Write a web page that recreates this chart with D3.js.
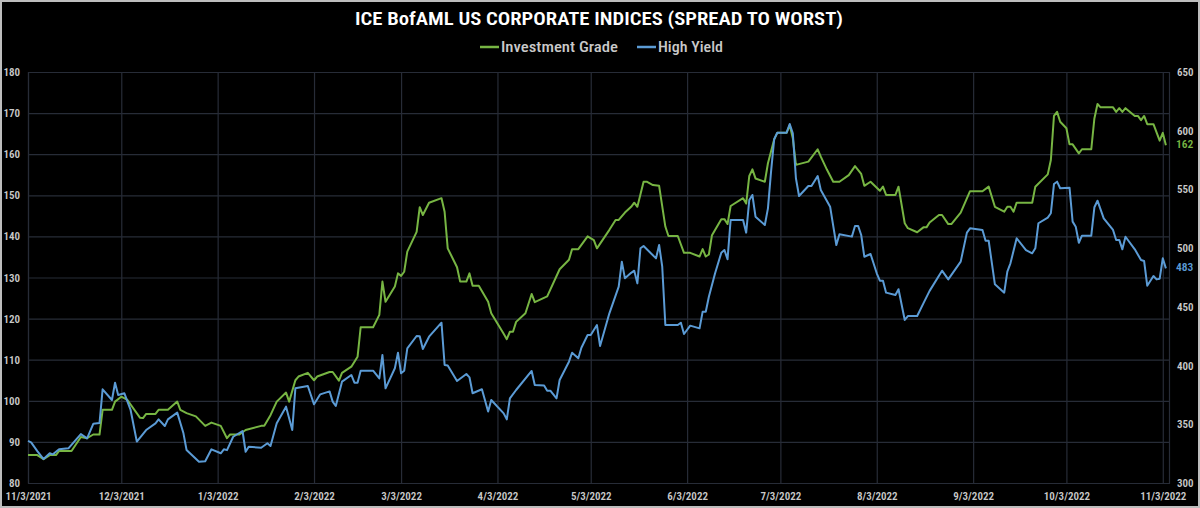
<!DOCTYPE html>
<html>
<head>
<meta charset="utf-8">
<script src="https://cdn.jsdelivr.net/npm/d3@7"></script>
<style>
  html, body { margin: 0; padding: 0; background: #000; }
  svg { display: block; }
</style>
</head>
<body>
<div id="chart"></div>
<script>
// data
const chartTitle = "ICE BofAML US CORPORATE INDICES (SPREAD TO WORST)";
const seriesNames = ["Investment Grade", "High Yield"];
const seriesColors = ["#77b543", "#5b9bd5"];

const investmentGrade = [
  ["11/3/2021", 86.8], ["11/6/2021", 86.8], ["11/8/2021", 85.8], ["11/10/2021", 86.8], ["11/12/2021", 86.8],
  ["11/13/2021", 87.8], ["11/17/2021", 87.8], ["11/20/2021", 91.2], ["11/22/2021", 90.9], ["11/24/2021", 91.8],
  ["11/26/2021", 91.8], ["11/27/2021", 97.8], ["11/30/2021", 97.8], ["12/1/2021", 99.8], ["12/3/2021", 101],
  ["12/5/2021", 100.2], ["12/6/2021", 99.1], ["12/9/2021", 95.9], ["12/10/2021", 95.8], ["12/11/2021", 96.8],
  ["12/14/2021", 96.8], ["12/15/2021", 97.8], ["12/18/2021", 97.8], ["12/21/2021", 99.8], ["12/22/2021", 97.8],
  ["12/24/2021", 97], ["12/27/2021", 96.2], ["12/30/2021", 93.9], ["1/1/2022", 94.7], ["1/4/2022", 93.9],
  ["1/6/2022", 90.9], ["1/7/2022", 91.8], ["1/10/2022", 91.8], ["1/12/2022", 92.9], ["1/17/2022", 93.9],
  ["1/18/2022", 93.9], ["1/20/2022", 96.5], ["1/22/2022", 99.8], ["1/25/2022", 102], ["1/26/2022", 99.8],
  ["1/28/2022", 105], ["1/29/2022", 105.9], ["2/1/2022", 106.8], ["2/3/2022", 105], ["2/4/2022", 105.9],
  ["2/8/2022", 107], ["2/9/2022", 107], ["2/11/2022", 104.9], ["2/12/2022", 106.8], ["2/15/2022", 108.3],
  ["2/17/2022", 110.7], ["2/18/2022", 117.9], ["2/22/2022", 117.9], ["2/24/2022", 120.9], ["2/25/2022", 129],
  ["2/26/2022", 124.1], ["3/1/2022", 127.8], ["3/2/2022", 131], ["3/3/2022", 130.4], ["3/4/2022", 131.4],
  ["3/5/2022", 136.3], ["3/8/2022", 141.1], ["3/9/2022", 147.1], ["3/10/2022", 145.2], ["3/12/2022", 148.2],
  ["3/16/2022", 149.3], ["3/17/2022", 146], ["3/18/2022", 137.1], ["3/21/2022", 132.5], ["3/22/2022", 129],
  ["3/24/2022", 129], ["3/25/2022", 131], ["3/26/2022", 128], ["3/28/2022", 128], ["3/31/2022", 124.1],
  ["4/1/2022", 121.3], ["4/5/2022", 116.3], ["4/6/2022", 115], ["4/7/2022", 116.8], ["4/8/2022", 116.8],
  ["4/9/2022", 119.2], ["4/12/2022", 121.3], ["4/14/2022", 126], ["4/15/2022", 124], ["4/19/2022", 125.4],
  ["4/23/2022", 132], ["4/26/2022", 134.3], ["4/27/2022", 136.9], ["4/29/2022", 136.9], ["5/2/2022", 140],
  ["5/4/2022", 139.1], ["5/5/2022", 137.1], ["5/9/2022", 141.6], ["5/11/2022", 144], ["5/12/2022", 144],
  ["5/14/2022", 145.8], ["5/16/2022", 147.2], ["5/17/2022", 148.2], ["5/18/2022", 147.2], ["5/20/2022", 153.3],
  ["5/21/2022", 153.3], ["5/23/2022", 152.5], ["5/25/2022", 152.3], ["5/27/2022", 142.4], ["5/28/2022", 140.1],
  ["5/31/2022", 140.1], ["6/2/2022", 136], ["6/4/2022", 136], ["6/7/2022", 135.1], ["6/8/2022", 136.9],
  ["6/9/2022", 135.1], ["6/10/2022", 135.6], ["6/11/2022", 140.3], ["6/14/2022", 144.2], ["6/15/2022", 144.2],
  ["6/16/2022", 143], ["6/17/2022", 147.4], ["6/21/2022", 149.3], ["6/22/2022", 148], ["6/23/2022", 154.7],
  ["6/24/2022", 156.3], ["6/25/2022", 154.1], ["6/28/2022", 153.3], ["6/29/2022", 157.8], ["7/1/2022", 163.6],
  ["7/2/2022", 165.2], ["7/5/2022", 165.2], ["7/6/2022", 167.1], ["7/7/2022", 163.9], ["7/8/2022", 157.4],
  ["7/12/2022", 158.2], ["7/15/2022", 161.2], ["7/16/2022", 159.4], ["7/18/2022", 156.2], ["7/20/2022", 153.3],
  ["7/22/2022", 153.3], ["7/25/2022", 154.9], ["7/27/2022", 157.1], ["7/29/2022", 155.2], ["7/30/2022", 152.3],
  ["8/1/2022", 153.3], ["8/4/2022", 151.1], ["8/5/2022", 152.1], ["8/6/2022", 150.1], ["8/9/2022", 150.1],
  ["8/10/2022", 152.1], ["8/12/2022", 143.2], ["8/13/2022", 142], ["8/16/2022", 141], ["8/18/2022", 142.2],
  ["8/19/2022", 142.2], ["8/20/2022", 143.4], ["8/23/2022", 145.2], ["8/24/2022", 145.2], ["8/26/2022", 143],
  ["8/27/2022", 143], ["8/30/2022", 145.8], ["9/2/2022", 151], ["9/6/2022", 151], ["9/8/2022", 152.1],
  ["9/10/2022", 147.2], ["9/13/2022", 146], ["9/14/2022", 147.2], ["9/15/2022", 147.2], ["9/16/2022", 146],
  ["9/17/2022", 148.2], ["9/22/2022", 148.2], ["9/23/2022", 152.1], ["9/27/2022", 155.1], ["9/28/2022", 158.6],
  ["9/29/2022", 169.3], ["9/30/2022", 170.3], ["10/1/2022", 167.9], ["10/3/2022", 166.3], ["10/4/2022", 162.4],
  ["10/5/2022", 162.4], ["10/7/2022", 160.2], ["10/8/2022", 161.2], ["10/11/2022", 161.2], ["10/12/2022", 168.7],
  ["10/13/2022", 172.2], ["10/14/2022", 171.4], ["10/18/2022", 171.4], ["10/19/2022", 170.3], ["10/20/2022", 171.2],
  ["10/21/2022", 170.3], ["10/22/2022", 171.2], ["10/25/2022", 169.3], ["10/26/2022", 169.3], ["10/27/2022", 168.3],
  ["10/28/2022", 169.3], ["10/29/2022", 167.3], ["10/31/2022", 167.3], ["11/2/2022", 163.3], ["11/3/2022", 165.2],
  ["11/4/2022", 162.2]
];

const highYield = [
  ["11/3/2021", 335.8], ["11/4/2021", 334.6], ["11/6/2021", 327.2], ["11/8/2021", 320.4], ["11/10/2021", 325.3],
  ["11/11/2021", 324.4], ["11/13/2021", 328.7], ["11/16/2021", 329.5], ["11/20/2021", 341.6], ["11/22/2021", 338],
  ["11/24/2021", 350.4], ["11/26/2021", 351], ["11/27/2021", 379.8], ["11/30/2021", 370.7], ["12/1/2021", 385.4],
  ["12/2/2021", 375], ["12/4/2021", 376.4], ["12/6/2021", 362.2], ["12/8/2021", 335.3], ["12/11/2021", 345.1],
  ["12/14/2021", 350.8], ["12/15/2021", 354.2], ["12/17/2021", 348.5], ["12/18/2021", 354.2], ["12/21/2021", 359.9],
  ["12/23/2021", 342.3], ["12/24/2021", 328.1], ["12/28/2021", 318.1], ["12/30/2021", 318.5], ["1/1/2022", 328.7],
  ["1/4/2022", 325.3], ["1/5/2022", 328.7], ["1/6/2022", 328], ["1/8/2022", 339.4], ["1/11/2022", 344.3],
  ["1/12/2022", 326.6], ["1/13/2022", 330.9], ["1/17/2022", 330], ["1/19/2022", 333.8], ["1/20/2022", 331.5],
  ["1/22/2022", 350.8], ["1/25/2022", 365], ["1/27/2022", 345.1], ["1/28/2022", 380.6], ["2/1/2022", 382.6],
  ["2/3/2022", 367], ["2/5/2022", 375.5], ["2/8/2022", 378], ["2/9/2022", 369.3], ["2/10/2022", 365.6],
  ["2/12/2022", 386.3], ["2/15/2022", 392], ["2/16/2022", 385.4], ["2/17/2022", 385.4], ["2/18/2022", 395.6],
  ["2/22/2022", 395.6], ["2/24/2022", 389], ["2/25/2022", 409], ["2/26/2022", 380.6], ["3/1/2022", 397.7],
  ["3/2/2022", 410.9], ["3/3/2022", 393.4], ["3/4/2022", 395.6], ["3/5/2022", 414.7], ["3/8/2022", 425.2],
  ["3/9/2022", 425], ["3/10/2022", 414.1], ["3/12/2022", 424.6], ["3/16/2022", 436.5], ["3/17/2022", 400.5],
  ["3/18/2022", 400], ["3/21/2022", 386.9], ["3/24/2022", 392.8], ["3/25/2022", 390], ["3/26/2022", 376.4],
  ["3/29/2022", 379.8], ["3/31/2022", 360.8], ["4/1/2022", 370.7], ["4/5/2022", 359.3], ["4/6/2022", 354.2],
  ["4/7/2022", 372.1], ["4/9/2022", 379.2], ["4/14/2022", 395.4], ["4/15/2022", 383.5], ["4/18/2022", 383],
  ["4/19/2022", 378.6], ["4/20/2022", 378.6], ["4/22/2022", 372.1], ["4/23/2022", 387.7], ["4/26/2022", 403.3],
  ["4/27/2022", 410.9], ["4/29/2022", 406.2], ["4/30/2022", 415.2], ["5/2/2022", 426], ["5/3/2022", 426],
  ["5/5/2022", 434.5], ["5/6/2022", 416.7], ["5/9/2022", 444.5], ["5/12/2022", 467.2], ["5/13/2022", 488.5],
  ["5/14/2022", 474.3], ["5/16/2022", 479], ["5/17/2022", 480.8], ["5/18/2022", 470], ["5/19/2022", 499.9],
  ["5/20/2022", 501.8], ["5/24/2022", 491.3], ["5/25/2022", 502.7], ["5/26/2022", 484.2], ["5/27/2022", 434.5],
  ["5/31/2022", 434.5], ["6/1/2022", 436.5], ["6/2/2022", 426.9], ["6/4/2022", 434], ["6/7/2022", 431.7],
  ["6/8/2022", 445.9], ["6/9/2022", 445.9], ["6/10/2022", 458.6], ["6/12/2022", 478.6], ["6/14/2022", 496.1],
  ["6/15/2022", 498.4], ["6/16/2022", 490.5], ["6/17/2022", 524], ["6/21/2022", 524], ["6/22/2022", 513.2],
  ["6/23/2022", 541], ["6/24/2022", 545.3], ["6/25/2022", 526.8], ["6/28/2022", 519.7], ["6/29/2022", 533.9],
  ["6/30/2022", 565.1], ["7/1/2022", 592.7], ["7/2/2022", 598.3], ["7/5/2022", 598.3], ["7/6/2022", 605.7],
  ["7/7/2022", 597.8], ["7/8/2022", 559.5], ["7/9/2022", 544.4], ["7/12/2022", 552.9], ["7/13/2022", 552.9],
  ["7/15/2022", 561.4], ["7/16/2022", 549.5], ["7/19/2022", 535.3], ["7/21/2022", 502.7], ["7/22/2022", 511.8],
  ["7/26/2022", 509.8], ["7/27/2022", 518.9], ["7/28/2022", 518.9], ["7/29/2022", 511.2], ["7/30/2022", 492.7],
  ["8/1/2022", 495], ["8/3/2022", 478.6], ["8/4/2022", 472.3], ["8/5/2022", 472.3], ["8/6/2022", 462.1],
  ["8/9/2022", 460.1], ["8/10/2022", 465], ["8/12/2022", 438.8], ["8/13/2022", 442.2], ["8/16/2022", 442.2],
  ["8/18/2022", 453], ["8/20/2022", 463.6], ["8/24/2022", 480.8], ["8/26/2022", 473.4], ["8/30/2022", 488.5],
  ["9/1/2022", 513.2], ["9/2/2022", 516.9], ["9/6/2022", 515.5], ["9/7/2022", 506.3], ["9/8/2022", 506.3],
  ["9/10/2022", 469.2], ["9/13/2022", 462.1], ["9/14/2022", 480], ["9/15/2022", 487.1], ["9/17/2022", 508.4],
  ["9/20/2022", 498.4], ["9/22/2022", 495.6], ["9/23/2022", 499.9], ["9/24/2022", 521.2], ["9/27/2022", 526],
  ["9/28/2022", 529.7], ["9/29/2022", 554.6], ["9/30/2022", 556.6], ["10/1/2022", 551], ["10/4/2022", 551.5],
  ["10/5/2022", 522.6], ["10/6/2022", 518.3], ["10/7/2022", 504.6], ["10/8/2022", 510.6], ["10/11/2022", 510.6],
  ["10/12/2022", 534.8], ["10/13/2022", 540.4], ["10/15/2022", 525.4], ["10/18/2022", 515.5], ["10/19/2022", 507],
  ["10/20/2022", 507], ["10/21/2022", 499], ["10/22/2022", 509.7], ["10/25/2022", 499], ["10/27/2022", 489.9],
  ["10/28/2022", 489], ["10/29/2022", 468], ["10/31/2022", 476.3], ["11/1/2022", 473.4], ["11/2/2022", 474],
  ["11/3/2022", 491.3], ["11/4/2022", 482.8]
];

const xTickLabels = ["11/3/2021", "12/3/2021", "1/3/2022", "2/3/2022", "3/3/2022", "4/3/2022", "5/3/2022",
  "6/3/2022", "7/3/2022", "8/3/2022", "9/3/2022", "10/3/2022", "11/3/2022"];
const leftTicks = [80, 90, 100, 110, 120, 130, 140, 150, 160, 170, 180];
const rightTicks = [300, 350, 400, 450, 500, 550, 600, 650];
const xDomain = ["11/3/2021", "11/5/2022"];

// size
const width = 1200;
const height = 508;
const margin = { top: 72, bottom: 25, left: 28, right: 31 };
const innerWidth = width - margin.left - margin.right;
const innerHeight = height - margin.top - margin.bottom;

const font = "'DIN Condensed', 'Roboto Condensed', 'Liberation Sans Narrow', 'DejaVu Sans Condensed', sans-serif";
const gridColor = "#272c37";
const labelColor = "#c9c9c9";

const parse = d3.timeParse("%m/%d/%Y");

const xScale = d3.scaleTime()
  .domain(xDomain.map(parse))
  .range([0, innerWidth]);

const yLeft = d3.scaleLinear().domain([80, 180]).range([innerHeight, 0]);
const yRight = d3.scaleLinear().domain([300, 650]).range([innerHeight, 0]);

const svg = d3.select("#chart")
  .append("svg")
  .attr("width", width)
  .attr("height", height)
  .style("background", "#000");

svg.append("rect")
  .attr("x", 1).attr("y", 1)
  .attr("width", width - 2).attr("height", height - 2)
  .attr("fill", "#000")
  .attr("stroke", "#bdbdbd")
  .attr("stroke-width", 2);

const g = svg.append("g")
  .attr("transform", `translate(${margin.left},${margin.top})`);

// horizontal grid + left labels
g.append("g")
  .call(d3.axisLeft(yLeft).tickValues(leftTicks).tickSize(-innerWidth).tickPadding(8))
  .call((a) => {
    a.select(".domain").remove();
    a.selectAll("line").attr("stroke", gridColor).attr("stroke-width", 1.2);
    a.selectAll("text")
      .attr("fill", labelColor)
      .attr("font-family", font)
      .attr("font-size", 11)
      .attr("font-weight", 600);
  });

// vertical grid + date labels
const xTickDates = xTickLabels.map(parse);
g.append("g")
  .attr("transform", `translate(0,${innerHeight})`)
  .call(d3.axisBottom(xScale).tickValues(xTickDates).tickSize(-innerHeight).tickPadding(9)
    .tickFormat((d, i) => xTickLabels[i]))
  .call((a) => {
    a.select(".domain").attr("stroke", gridColor).attr("stroke-width", 1.2);
    a.selectAll("line").attr("stroke", gridColor).attr("stroke-width", 1.2);
    a.selectAll("text")
      .attr("fill", labelColor)
      .attr("font-family", font)
      .attr("font-size", 11)
      .attr("font-weight", 600);
  });

// right labels (no grid of their own)
g.append("g")
  .attr("transform", `translate(${innerWidth},0)`)
  .call(d3.axisRight(yRight).tickValues(rightTicks).tickSize(0).tickPadding(8))
  .call((a) => {
    a.select(".domain").remove();
    a.selectAll("text")
      .attr("fill", labelColor)
      .attr("font-family", font)
      .attr("font-size", 11)
      .attr("font-weight", 600);
  });

// lines
const series = [
  { name: seriesNames[0], color: seriesColors[0], y: yLeft, values: investmentGrade },
  { name: seriesNames[1], color: seriesColors[1], y: yRight, values: highYield },
];

series.forEach((s) => {
  const line = d3.line()
    .x((d) => xScale(parse(d[0])))
    .y((d) => s.y(d[1]));
  g.append("path")
    .datum(s.values)
    .attr("fill", "none")
    .attr("stroke", s.color)
    .attr("stroke-width", 2)
    .attr("stroke-linejoin", "round")
    .attr("d", line);

  // last value label
  const last = s.values[s.values.length - 1];
  g.append("text")
    .attr("x", innerWidth + 7)
    .attr("y", s.y(last[1]))
    .attr("dominant-baseline", "middle")
    .attr("fill", s.color)
    .attr("font-family", font)
    .attr("font-size", 11.5)
    .attr("font-weight", 600)
    .text(Math.round(last[1]));
});

// title
svg.append("text")
  .attr("x", 599)
  .attr("y", 25)
  .attr("text-anchor", "middle")
  .attr("fill", "#ffffff")
  .attr("font-family", font)
  .attr("font-size", 19)
  .attr("font-weight", 600)
  .attr("textLength", 488)
  .attr("lengthAdjust", "spacingAndGlyphs")
  .text(chartTitle);

// legend
const legendItems = [
  { x: 480, textLen: 117 },
  { x: 637, textLen: 65 },
];
const legend = svg.append("g");
series.forEach((s, i) => {
  const item = legend.append("g").attr("transform", `translate(${legendItems[i].x},47)`);
  item.append("line")
    .attr("x1", 0).attr("x2", 19)
    .attr("stroke", s.color)
    .attr("stroke-width", 2.5);
  item.append("text")
    .attr("x", 21)
    .attr("dy", "0.35em")
    .attr("fill", labelColor)
    .attr("font-family", font)
    .attr("font-size", 14)
    .attr("font-weight", 500)
    .attr("textLength", legendItems[i].textLen)
    .attr("lengthAdjust", "spacingAndGlyphs")
    .text(s.name);
});
</script>
</body>
</html>
